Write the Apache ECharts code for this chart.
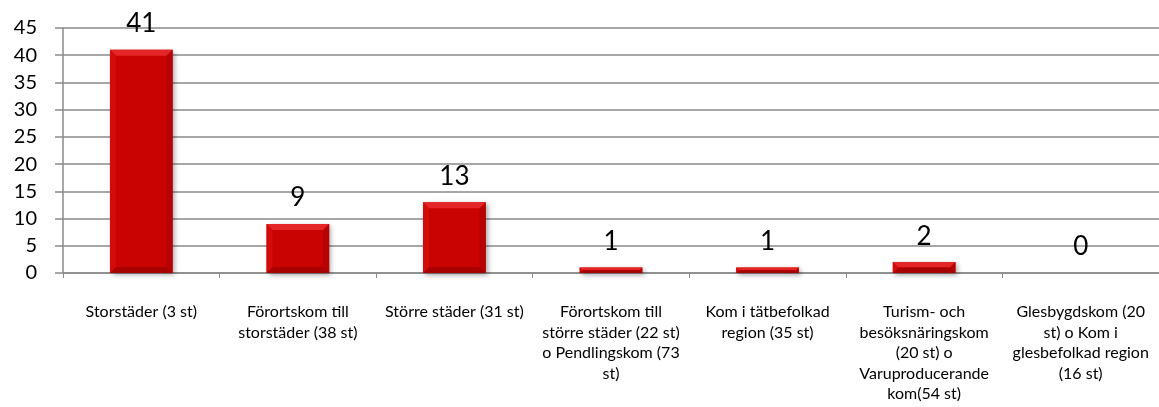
<!DOCTYPE html>
<html>
<head>
<meta charset="utf-8">
<script src="https://cdn.jsdelivr.net/npm/echarts@6/dist/echarts.min.js"></script>
<style>
  html, body { margin: 0; padding: 0; background: #ffffff; }
  #chart { width: 1159px; height: 407px; }
</style>
</head>
<body>
<div id="chart"></div>
<script>
// Municipality groups (category axis), line breaks as laid out under each bar
const categories = [
  'Storstäder (3 st)',
  'Förortskom till\nstorstäder (38 st)',
  'Större städer (31 st)',
  'Förortskom till\nstörre städer (22 st)\no Pendlingskom (73\nst)',
  'Kom i tätbefolkad\nregion (35 st)',
  'Turism- och\nbesöksnäringskom\n(20 st) o\nVaruproducerande\nkom(54 st)',
  'Glesbygdskom (20\nst) o Kom i\nglesbefolkad region\n(16 st)'
];

// Count per group
const counts = [41, 9, 13, 1, 1, 2, 0];

// Value axis ticks
const yMin = 0;
const yMax = 45;
const yStep = 5;

const FONT = 'Lato, "Open Sans", "Noto Sans", sans-serif';
const BAR_RATIO = 0.4;

// Bevel edges drawn on top of each bar
function renderBevel(params, api) {
  const idx = api.value(0);
  const val = api.value(1);
  if (!val) return null;
  const base = api.coord([idx, 0]);
  const top = api.coord([idx, val]);
  const w = api.size([1, 0])[0] * BAR_RATIO;
  const x0 = base[0] - w / 2, x1 = base[0] + w / 2;
  const y0 = top[1], y1 = base[1];
  const h = y1 - y0;
  const b = Math.min(6, h / 2, w / 2);
  const ix0 = x0 + b, ix1 = x1 - b, iy0 = y0 + b, iy1 = y1 - b;
  const poly = (pts, fill) => ({ type: 'polygon', shape: { points: pts }, style: { fill: fill }, silent: true });
  return {
    type: 'group',
    children: [
      poly([[x0, y0], [x1, y0], [ix1, iy0], [ix0, iy0]], '#e52626'),
      poly([[x0, y1], [x1, y1], [ix1, iy1], [ix0, iy1]], '#a80202'),
      poly([[x0, y0], [ix0, iy0], [ix0, iy1], [x0, y1]], '#d40b0b'),
      poly([[x1, y0], [ix1, iy0], [ix1, iy1], [x1, y1]], '#b60303')
    ]
  };
}

const chart = echarts.init(document.getElementById('chart'), null, { renderer: 'canvas' });
chart.setOption({
  backgroundColor: '#ffffff',
  animation: false,
  grid: { left: 63, top: 28, width: 1099, height: 245, containLabel: false },
  xAxis: {
    type: 'category',
    data: categories,
    axisLine: { show: true, lineStyle: { color: '#8a8a8a', width: 1.5 } },
    axisTick: { show: true, length: 5, lineStyle: { color: '#8a8a8a', width: 1 } },
    axisLabel: {
      interval: 0,
      margin: 29,
      color: '#000000',
      fontFamily: FONT,
      fontSize: 16,
      lineHeight: 20.5,
      align: 'center'
    },
    splitLine: { show: false }
  },
  yAxis: {
    type: 'value',
    min: yMin,
    max: yMax,
    interval: yStep,
    axisLine: { show: true, lineStyle: { color: '#8a8a8a', width: 1.5 } },
    axisTick: { show: true, length: 8, lineStyle: { color: '#8a8a8a', width: 1.5 } },
    axisLabel: { margin: 26, color: '#000000', fontFamily: FONT, fontSize: 20 },
    splitLine: { show: true, lineStyle: { color: '#8a8a8a', width: 1.5 } }
  },
  series: [
    {
      type: 'bar',
      data: counts,
      barWidth: (BAR_RATIO * 100) + '%',
      itemStyle: {
        color: '#c90202',
        shadowColor: 'rgba(0,0,0,0.35)',
        shadowBlur: 5,
        shadowOffsetX: 2,
        shadowOffsetY: 2
      },
      label: {
        show: true,
        position: 'top',
        distance: 13,
        color: '#000000',
        fontFamily: FONT,
        fontSize: 26
      },
      z: 2
    },
    {
      type: 'custom',
      renderItem: renderBevel,
      data: counts.map((v, i) => [i, v]),
      encode: { x: 0, y: 1 },
      silent: true,
      z: 3
    }
  ]
});
</script>
</body>
</html>
